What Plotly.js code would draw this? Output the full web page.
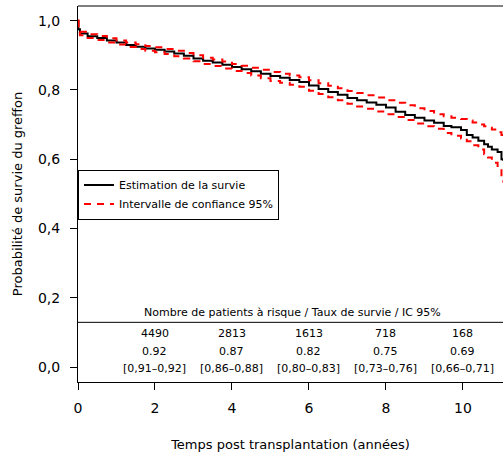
<!DOCTYPE html>
<html>
<head>
<meta charset="utf-8">
<script src="https://cdn.plot.ly/plotly-3.0.1.min.js"></script>
<style>html,body{margin:0;padding:0;overflow:hidden;background:#fff}</style>
</head>
<body>
<div id="chart" style="width:503px;height:452px"></div>
<script>
// Kaplan-Meier estimate (years) and 95% CI
const times = [0, 0.01, 0.05,
  0.25, 0.5, 0.75, 1.0, 1.25, 1.5, 1.75, 2.0, 2.25, 2.5, 2.75, 3.0, 3.25, 3.5, 3.75, 4.0,
  4.25, 4.5, 4.75, 5.0, 5.25, 5.5, 5.75, 6.0, 6.25, 6.5, 6.75, 7.0, 7.25, 7.5, 7.75, 8.0,
  8.25, 8.5, 8.75, 9.0, 9.25, 9.5,
  9.7, 9.95, 10.1, 10.25, 10.4, 10.55, 10.65, 10.75, 10.9, 11.0, 11.05];
const survival = [1.0, 0.975, 0.963,
  0.955, 0.950, 0.943, 0.937, 0.930, 0.925, 0.920, 0.916, 0.911, 0.905, 0.899, 0.891, 0.884, 0.879, 0.873, 0.866,
  0.860, 0.854, 0.847, 0.840, 0.835, 0.829, 0.823, 0.813, 0.803, 0.794, 0.786, 0.777, 0.770, 0.764, 0.757, 0.749,
  0.737, 0.728, 0.720, 0.712, 0.705, 0.696,
  0.692, 0.684, 0.670, 0.663, 0.653, 0.643, 0.636, 0.628, 0.621, 0.600, 0.595];
const ciUpper = [1.0, 0.979, 0.968,
  0.961, 0.956, 0.949, 0.943, 0.937, 0.932, 0.927, 0.923, 0.918, 0.913, 0.907, 0.900, 0.893, 0.888, 0.882, 0.875,
  0.870, 0.864, 0.858, 0.852, 0.847, 0.842, 0.837, 0.828, 0.819, 0.812, 0.805, 0.797, 0.791, 0.785, 0.778, 0.770,
  0.763, 0.756, 0.747, 0.739, 0.730, 0.724,
  0.720, 0.716, 0.712, 0.706, 0.700, 0.695, 0.691, 0.686, 0.678, 0.670, 0.665];
const ciLower = [1.0, 0.971, 0.958,
  0.950, 0.944, 0.937, 0.931, 0.924, 0.918, 0.913, 0.909, 0.904, 0.897, 0.891, 0.883, 0.875, 0.869, 0.862, 0.855,
  0.849, 0.842, 0.834, 0.826, 0.821, 0.815, 0.809, 0.798, 0.788, 0.779, 0.770, 0.760, 0.752, 0.746, 0.738, 0.730,
  0.722, 0.713, 0.703, 0.695, 0.688, 0.676,
  0.668, 0.660, 0.652, 0.640, 0.628, 0.614, 0.605, 0.590, 0.572, 0.545, 0.532];

// risk table
const tableTimes = [2, 4, 6, 8, 10];
const atRisk = ["4490", "2813", "1613", "718", "168"];
const survRate = ["0.92", "0.87", "0.82", "0.75", "0.69"];
const ciText = ["[0,91\u20130,92]", "[0,86\u20130,88]", "[0,80\u20130,83]", "[0,73\u20130,76]", "[0,66\u20130,71]"];
const tableHeader = "Nombre de patients \u00e0 risque / Taux de survie / IC 95%";

// axis ticks
const xTicks = [0, 2, 4, 6, 8, 10];
const xTickText = ["0", "2", "4", "6", "8", "10"];
const yTicks = [0, 0.2, 0.4, 0.6, 0.8, 1.0];
const yTickText = ["0,0", "0,2", "0,4", "0,6", "0,8", "1,0"];

const FONT = "DejaVu Sans, Liberation Sans, Arial, sans-serif";
const dashStyle = "7px,6px";

const traces = [
  {x: times, y: survival, type: "scatter", mode: "lines", line: {shape: "hv", color: "#000000", width: 2},
   name: "Estimation de la survie", showlegend: true},
  {x: times, y: ciUpper, type: "scatter", mode: "lines", line: {shape: "hv", color: "#ff0000", width: 2, dash: dashStyle},
   name: "Intervalle de confiance 95%", showlegend: true, legendgroup: "ci"},
  {x: times, y: ciLower, type: "scatter", mode: "lines", line: {shape: "hv", color: "#ff0000", width: 2, dash: dashStyle},
   name: "Intervalle de confiance 95%", showlegend: false, legendgroup: "ci"}
];

const annotations = [];
const rowY = [0.097, 0.046, -0.004];
const rows = [atRisk, survRate, ciText];
rows.forEach((row, r) => {
  row.forEach((txt, i) => {
    annotations.push({x: tableTimes[i], y: rowY[r], xref: "x", yref: "y", text: txt, showarrow: false,
      xanchor: "center", yanchor: "middle", font: {family: FONT, size: 11, color: "#000"}});
  });
});
annotations.push({x: 5.57, y: 0.157, xref: "x", yref: "y", text: tableHeader, showarrow: false,
  xanchor: "center", yanchor: "middle", font: {family: FONT, size: 11, color: "#000"}});

const layout = {
  width: 503, height: 452,
  margin: {l: 78, r: 0, t: 6, b: 70},
  paper_bgcolor: "#fff", plot_bgcolor: "#fff",
  font: {family: FONT, size: 13, color: "#000"},
  showlegend: true,
  legend: {x: 0, xanchor: "left", y: 0.565, yanchor: "top", bgcolor: "#fff", bordercolor: "#000", borderwidth: 1,
    font: {family: FONT, size: 11, color: "#000"}, tracegroupgap: 0},
  xaxis: {range: [0, 11.04], tickvals: xTicks, ticktext: xTickText, ticks: "outside", ticklen: 7, tickwidth: 1, tickcolor: "#000",
    showline: true, linecolor: "#000", linewidth: 1, showgrid: false, zeroline: false, ticklabelstandoff: 6,
    tickfont: {family: FONT, size: 14, color: "#000"},
    title: {text: "Temps post transplantation (ann\u00e9es)", font: {family: FONT, size: 13, color: "#000"}, standoff: 26}},
  yaxis: {range: [-0.0433, 1.0424], tickvals: yTicks, ticktext: yTickText, ticks: "outside", ticklen: 7, tickwidth: 1, tickcolor: "#000",
    showline: true, linecolor: "#000", linewidth: 1, showgrid: false, zeroline: false, ticklabelstandoff: 7,
    tickfont: {family: FONT, size: 14, color: "#000"},
    title: {text: "Probabilit\u00e9 de survie du greffon", font: {family: FONT, size: 13, color: "#000"}, standoff: 12}},
  shapes: [
    {type: "line", xref: "paper", yref: "paper", x0: 0, x1: 1, y0: 1, y1: 1, line: {color: "#000", width: 1}},
    {type: "line", xref: "paper", yref: "y", x0: 0, x1: 1, y0: 0.129, y1: 0.129, line: {color: "#000", width: 1}}
  ],
  annotations: annotations
};

Plotly.newPlot("chart", traces, layout, {displayModeBar: false, staticPlot: true});
</script>
</body>
</html>
